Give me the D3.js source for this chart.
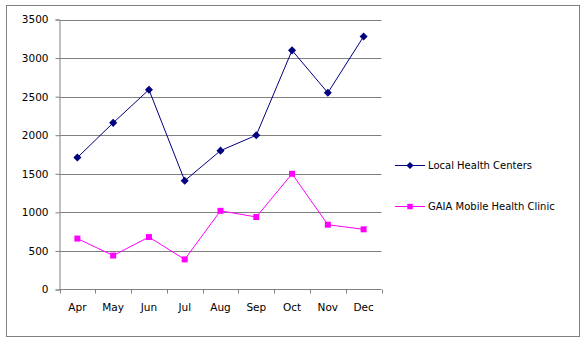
<!DOCTYPE html>
<html>
<head>
<meta charset="utf-8">
<script src="https://cdn.jsdelivr.net/npm/d3@7"></script>
<style>
  html, body { margin: 0; padding: 0; background: #fff; }
  svg { display: block; font-family: "DejaVu Sans", Verdana, sans-serif; }
</style>
</head>
<body>
<svg id="chart" width="587" height="340"></svg>
<script>
// Monthly patient visits
const months = ["Apr", "May", "Jun", "Jul", "Aug", "Sep", "Oct", "Nov", "Dec"];
const localHealthCenters = [1710, 2160, 2590, 1410, 1800, 2000, 3100, 2550, 3280];
const gaiaMobileClinic = [660, 440, 680, 390, 1020, 940, 1500, 840, 780];
const yTicks = [0, 500, 1000, 1500, 2000, 2500, 3000, 3500];
const seriesNames = ["Local Health Centers", "GAIA Mobile Health Clinic"];
const seriesColors = ["#000080", "#FF00FF"];

const svg = d3.select("#chart");
const plot = { left: 59.5, right: 381.5, top: 19.5, bottom: 289.5 };

// outer frame
svg.append("rect")
  .attr("x", 6.5).attr("y", 5.5)
  .attr("width", 573).attr("height", 331)
  .attr("fill", "#fff").attr("stroke", "#808080").attr("stroke-width", 1);

const x = d3.scaleBand().domain(months).range([plot.left, plot.right]).paddingInner(0).paddingOuter(0);
const y = d3.scaleLinear().domain([0, 3500]).range([plot.bottom, plot.top]);

// horizontal gridlines
svg.append("g").selectAll("line").data(yTicks.filter(d => d > 0)).join("line")
  .attr("x1", plot.left).attr("x2", plot.right)
  .attr("y1", d => Math.round(y(d)) + 0.5).attr("y2", d => Math.round(y(d)) + 0.5)
  .attr("stroke", "#808080").attr("stroke-width", 1);

// y axis
const yAxis = d3.axisLeft(y).tickValues(yTicks).tickFormat(d3.format("d")).tickSize(4).tickPadding(7);
const gy = svg.append("g").attr("transform", `translate(${plot.left},0)`).call(yAxis);
gy.select(".domain").attr("stroke", "#808080");
gy.selectAll(".tick line").attr("stroke", "#808080");
gy.selectAll(".tick text").attr("font-size", "10.5px").attr("fill", "#000")
  .attr("font-family", "DejaVu Sans, Verdana, sans-serif");

// x axis
const xAxis = d3.axisBottom(x).tickSize(0).tickPadding(14);
const gx = svg.append("g").attr("transform", `translate(0,${plot.bottom})`).call(xAxis);
gx.select(".domain").attr("stroke", "#808080").attr("d", `M${plot.left},0H${plot.right}`);
gx.selectAll(".tick text").attr("font-size", "10.5px").attr("fill", "#000")
  .attr("font-family", "DejaVu Sans, Verdana, sans-serif");
// category boundary ticks
const bounds = months.map(m => x(m)).concat([x(months[months.length - 1]) + x.bandwidth()]);
gx.append("g").selectAll("line").data(bounds).join("line")
  .attr("x1", d => Math.round(d) + 0.5).attr("x2", d => Math.round(d) + 0.5)
  .attr("y1", 0).attr("y2", 4)
  .attr("stroke", "#808080");

const cx = m => x(m) + x.bandwidth() / 2;
const line = d3.line().x(d => cx(d.m)).y(d => y(d.v));

const series = [localHealthCenters, gaiaMobileClinic].map((vals, i) => ({
  name: seriesNames[i], color: seriesColors[i],
  points: vals.map((v, j) => ({ m: months[j], v }))
}));

// diamond = square turned 45 degrees; square drawn upright
const markerPath = i => d3.symbol(d3.symbolSquare, i === 0 ? 22 : 36)();
const markerRot = i => (i === 0 ? 45 : 0);

series.forEach((s, i) => {
  svg.append("path").datum(s.points)
    .attr("d", line).attr("fill", "none")
    .attr("stroke", s.color).attr("stroke-width", 1);
  svg.append("g").selectAll("path").data(s.points).join("path")
    .attr("transform", d => `translate(${cx(d.m)},${y(d.v)}) rotate(${markerRot(i)})`)
    .attr("d", markerPath(i))
    .attr("fill", s.color).attr("stroke", s.color).attr("stroke-width", i === 0 ? 1 : 0);
});

// legend
const legendY = [165, 206];
series.forEach((s, i) => {
  const g = svg.append("g").attr("transform", `translate(395,${legendY[i]})`);
  g.append("line").attr("x1", 0).attr("x2", 30).attr("y1", 0.5).attr("y2", 0.5)
    .attr("stroke", s.color).attr("stroke-width", 1);
  g.append("path").attr("transform", `translate(15,0.5) rotate(${markerRot(i)})`)
    .attr("d", d3.symbol(d3.symbolSquare, i === 0 ? 16 : 30)())
    .attr("fill", s.color).attr("stroke", s.color).attr("stroke-width", i === 0 ? 1 : 0);
  g.append("text").attr("x", 33).attr("y", 0).attr("dy", "0.35em")
    .attr("font-size", "10px").attr("fill", "#000").text(s.name);
});
</script>
</body>
</html>
